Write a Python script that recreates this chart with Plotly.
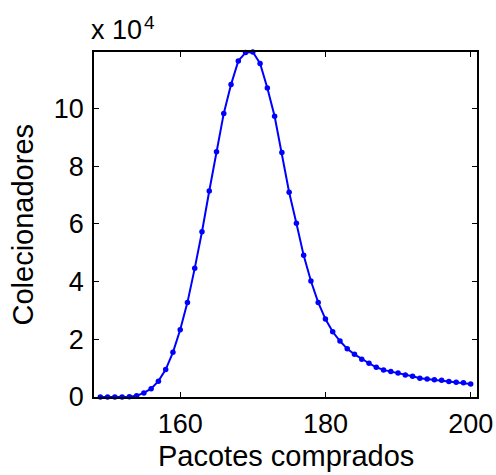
import plotly.graph_objects as go

pacotes = list(range(149, 201))
colecionadores_x1e4 = [
    0.0, 0.0, 0.0, 0.0, 0.01, 0.045, 0.14, 0.29, 0.55, 0.95,
    1.55, 2.33, 3.28, 4.46, 5.73, 7.14, 8.50, 9.83, 10.83, 11.65,
    11.94, 11.96, 11.56, 10.71, 9.73, 8.48, 7.10, 6.02, 4.91, 4.02,
    3.28, 2.70, 2.26, 1.94, 1.67, 1.48, 1.31, 1.17, 1.03, 0.94,
    0.88, 0.83, 0.76, 0.72, 0.65, 0.62, 0.60, 0.58, 0.54, 0.51,
    0.49, 0.45,
]
x_ticks = [160, 180, 200]
y_ticks = [0, 2, 4, 6, 8, 10]
x_title = "Pacotes comprados"
y_title = "Colecionadores"

FONT = "Liberation Sans, Arial, Helvetica, sans-serif"

fig = go.Figure()
fig.add_trace(go.Scatter(
    x=pacotes, y=colecionadores_x1e4, mode="lines+markers",
    line=dict(color="#0000ff", width=2),
    marker=dict(color="#0000ff", size=5.5),
    cliponaxis=False, showlegend=False,
))

axis_common = dict(
    showline=True, linecolor="black", linewidth=1.5, mirror="ticks",
    ticks="inside", ticklen=5, tickwidth=1, tickcolor="black",
    showgrid=False, zeroline=False, automargin=False,
    tickfont=dict(family=FONT, size=27, color="black"),
)
fig.update_xaxes(range=[148.13, 200.87], tickvals=x_ticks, ticklabelstandoff=2, **axis_common)
fig.update_yaxes(range=[0, 11.96], tickvals=y_ticks, ticklabelstandoff=3, **axis_common)

# axis titles as annotations for exact placement
fig.add_annotation(
    xref="paper", yref="paper", x=0.5, y=0, xanchor="center", yanchor="middle",
    text=x_title, showarrow=False, yshift=-59,
    font=dict(family=FONT, size=29, color="black"),
)
fig.add_annotation(
    xref="paper", yref="paper", x=0, y=0.5, xanchor="center", yanchor="middle",
    text=y_title, showarrow=False, xshift=-72, textangle=-90,
    font=dict(family=FONT, size=29, color="black"),
)

# exponent label
fig.add_annotation(
    xref="paper", yref="paper", x=0, y=1, xanchor="left", yanchor="bottom",
    text="x 10", showarrow=False, yshift=5, xshift=-5,
    font=dict(family=FONT, size=27, color="black"),
)
fig.add_annotation(
    xref="paper", yref="paper", x=0, y=1, xanchor="left", yanchor="bottom",
    text="4", showarrow=False, yshift=17, xshift=48,
    font=dict(family=FONT, size=19, color="black"),
)

fig.update_layout(
    width=496, height=475,
    margin=dict(l=94, r=19, t=52, b=78),
    paper_bgcolor="white", plot_bgcolor="white",
)
fig.write_html(
    "out.html",
    config={"displayModeBar": False},
    post_script="document.body.style.margin='0';document.body.style.overflow='hidden';",
)
